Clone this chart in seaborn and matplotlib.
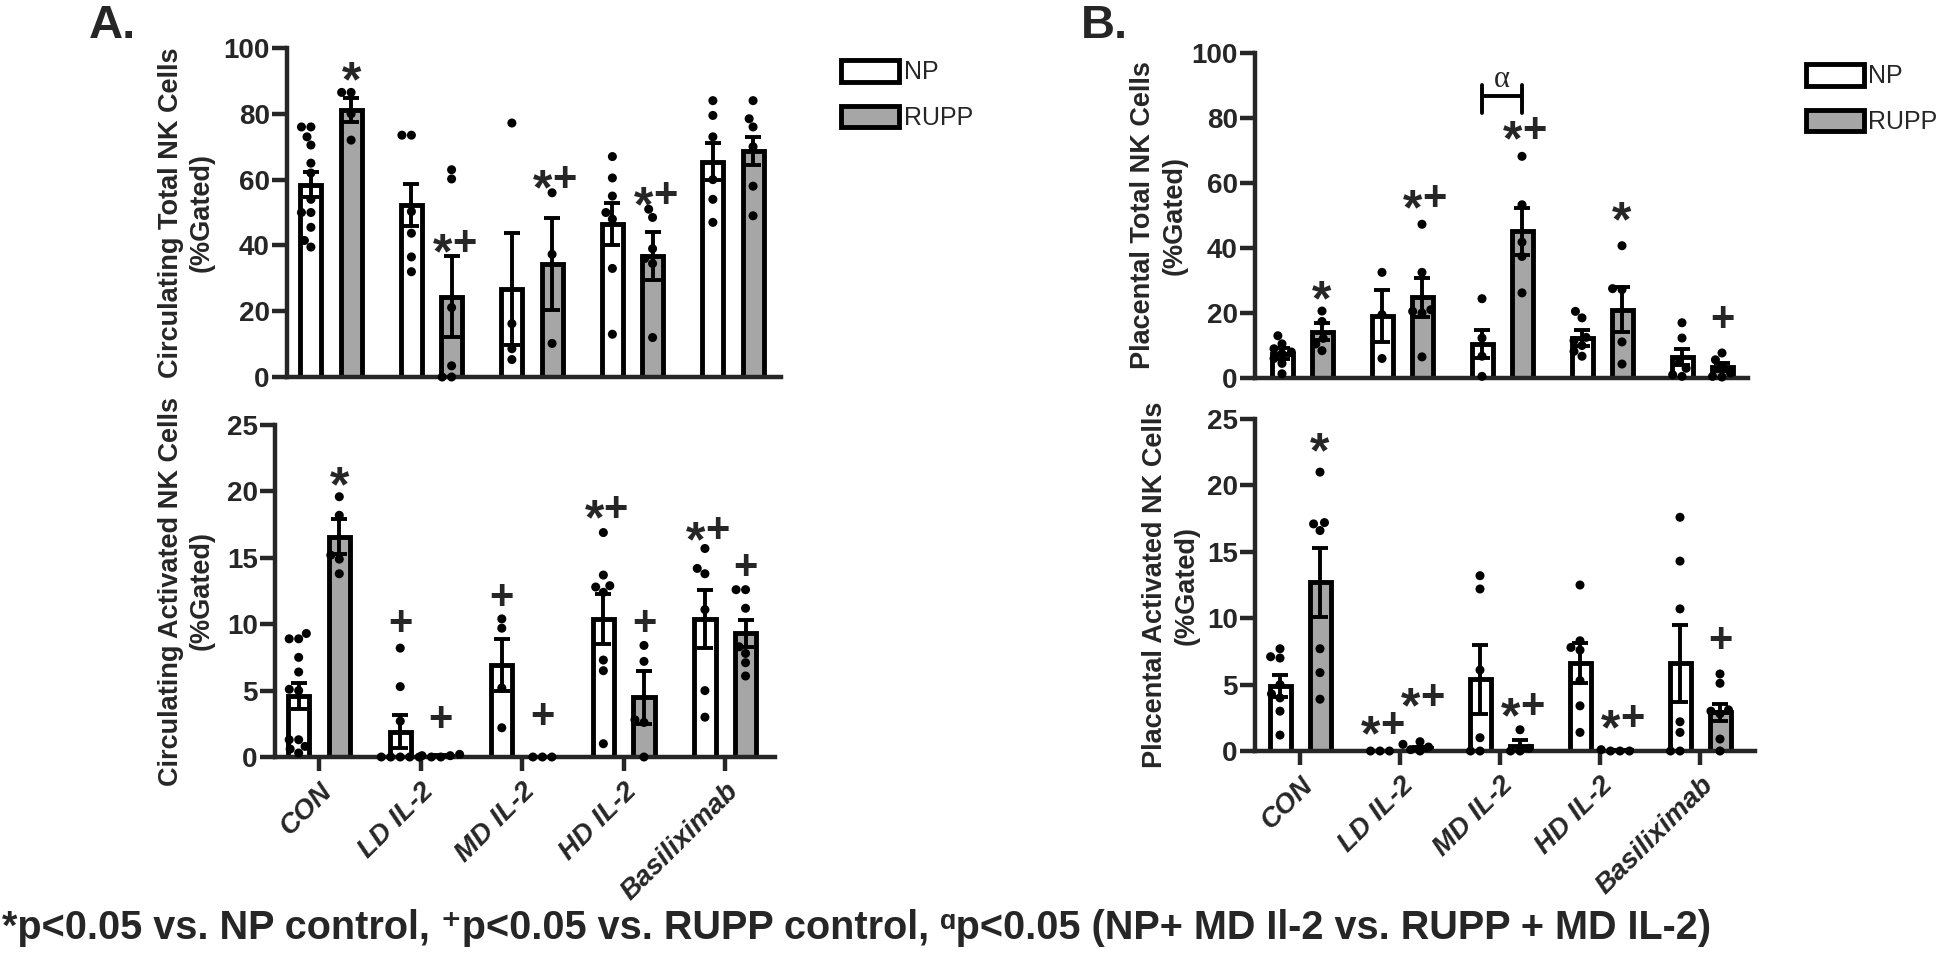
import numpy as np
import pandas as pd
import matplotlib
matplotlib.use("Agg")
import matplotlib.pyplot as plt
from matplotlib.patches import Patch
import seaborn as sns

sns.set_style("ticks")
plt.rcParams["font.family"] = ["Liberation Sans", "DejaVu Sans"]
plt.rcParams["font.weight"] = "bold"

# =========================
# DATA
# =========================
CATS = ["CON", "LD IL-2", "MD IL-2", "HD IL-2", "Basiliximab"]
GROUPS = ["NP", "RUPP"]
GRAY = "#a6a6a6"

# A. circulating total NK cells
circ_total_np_mean = [58.5, 52.3, 26.7, 46.5, 65.5]
circ_total_np_sem = [3.9, 6.4, 17.0, 6.4, 5.6]
circ_total_rupp_mean = [81.2, 24.4, 34.3, 36.8, 68.8]
circ_total_rupp_sem = [3.7, 12.3, 13.9, 7.2, 4.3]
circ_total_np_pts = [
    [76, 76, 73, 70.5, 65, 62, 54, 50, 50, 45.5, 41.5, 39.5],
    [73.5, 73.5, 50.3, 43.7, 36.5, 32],
    [77.2, 16.2, 8.6, 5.3],
    [67, 60.5, 55, 50, 48, 33, 13],
    [84, 79.5, 73, 60, 54, 47],
]
circ_total_rupp_pts = [
    [86.5, 86.5, 80, 72],
    [63, 60.2, 21.1, 3.4, 0, 0],
    [56, 37.3, 10.2],
    [51, 48.5, 39, 36, 34.5, 12],
    [84, 78.5, 76, 70, 58, 49],
]
circ_total_marks = [(0, "RUPP", "*", 93), (1, "RUPP", "*+", 40.5),
                    (2, "RUPP", "*+", 60), (3, "RUPP", "*+", 55)]

# A. circulating activated NK cells
circ_act_np_mean = [4.6, 1.9, 6.9, 10.4, 10.4]
circ_act_np_sem = [1.0, 1.25, 1.95, 1.9, 2.2]
circ_act_rupp_mean = [16.6, 0.1, 0.0, 4.5, 9.3]
circ_act_rupp_sem = [1.3, 0.05, 0.0, 2.0, 1.05]
circ_act_np_pts = [
    [9.3, 8.9, 8.9, 7.5, 6.4, 5.1, 5.0, 1.3, 1.3, 0.8, 0.6, 0.3],
    [8.2, 5.3, 2.7, 0, 0, 0, 0, 0],
    [10.4, 9.7, 5.2, 2.2],
    [16.9, 13.7, 12.9, 12.8, 12.4, 7.3, 6.5, 1.0],
    [15.7, 14.2, 13.8, 11.1, 5.0, 3.0],
]
circ_act_rupp_pts = [
    [19.6, 18.2, 15.2, 14.9, 13.8],
    [0.2, 0.1, 0.1, 0, 0],
    [0, 0, 0],
    [8.4, 7.2, 2.8, 2.6, 0],
    [12.6, 12.6, 11.2, 8.3, 7.8, 7.1, 6.1],
]
circ_act_marks = [(0, "RUPP", "*", 21.1), (1, "NP", "+", 10.0), (1, "RUPP", "+", 2.8),
                  (2, "NP", "+", 12.0), (2, "RUPP", "+", 3.0), (3, "NP", "*+", 18.6),
                  (3, "RUPP", "+", 10.0), (4, "NP", "*+", 17.0), (4, "RUPP", "+", 14.2)]

# B. placental total NK cells
plac_total_np_mean = [7.5, 19.1, 10.6, 12.3, 6.4]
plac_total_np_sem = [1.6, 8.0, 4.3, 2.4, 2.5]
plac_total_rupp_mean = [14.2, 24.8, 45.1, 21.0, 3.4]
plac_total_rupp_sem = [2.6, 5.9, 7.2, 6.9, 1.2]
plac_total_np_pts = [
    [13, 10.5, 9, 8, 7.5, 6, 4.5, 1.3],
    [32.5, 19.5, 6],
    [24.4, 12.3, 6.7, 0.5],
    [20.5, 18.5, 12.5, 11.5, 10, 8.2, 6.7],
    [17, 12.3, 5, 3, 1, 0.5],
]
plac_total_rupp_pts = [
    [20.6, 17.4, 12.2, 10.5, 8.4],
    [47.3, 32.5, 21, 20.5, 20, 6.5],
    [68.2, 53.3, 41.8, 37.4, 26.2],
    [40.7, 27.5, 27.2, 11.1, 4.3],
    [7.7, 5.6, 3.6, 1.5, 0.5, 0.3],
]
plac_total_marks = [(0, "RUPP", "*", 26.8), (1, "RUPP", "*+", 55),
                    (2, "RUPP", "*+", 76), (3, "RUPP", "*", 51.3), (4, "RUPP", "+", 17.9)]
alpha_bracket = (2, 81.5, 86.7, 90.0, 91.8)  # category, tick low, bar, tick high, label

# B. placental activated NK cells
plac_act_np_mean = [4.9, 0.0, 5.4, 6.6, 6.6]
plac_act_np_sem = [0.8, 0.0, 2.6, 1.5, 2.9]
plac_act_rupp_mean = [12.7, 0.2, 0.4, 0.05, 2.9]
plac_act_rupp_sem = [2.6, 0.1, 0.45, 0.03, 0.65]
plac_act_np_pts = [
    [7.7, 7.1, 7.0, 5.0, 4.3, 4.0, 3.0, 1.2],
    [0, 0, 0],
    [13.2, 12.2, 6.1, 1.0, 0, 0],
    [12.5, 8.3, 7.8, 7.6, 5.3, 3.4, 1.4],
    [17.6, 14.3, 10.7, 2.2, 1.4, 0, 0],
]
plac_act_rupp_pts = [
    [21, 17.2, 17.1, 16.6, 7.7, 5.9, 3.9],
    [0.7, 0.5, 0.3, 0.1, 0],
    [1.6, 0.2, 0, 0],
    [0.1, 0, 0, 0],
    [5.8, 5.1, 3.1, 3.0, 2.8, 0.9, 0],
]
plac_act_marks = [(0, "RUPP", "*", 23.2), (1, "NP", "*+", 1.9), (1, "RUPP", "*+", 4.0),
                  (2, "RUPP", "*+", 3.3), (3, "RUPP", "*+", 2.4), (4, "RUPP", "+", 8.3)]

FOOTNOTE = ("*p<0.05 vs. NP control, \u207ap<0.05 vs. RUPP control, "
            "\u1d45p<0.05 (NP+ MD Il-2 vs. RUPP + MD IL-2)")

# =========================
# HELPERS
# =========================
W, H = 1946, 980


def px_axes(left, right, y_bottom, y_top):
    return [left / W, 1 - y_bottom / H, (right - left) / W, (y_bottom - y_top) / H]


def put_mark(ax, x, y, s):
    kw = dict(textcoords="offset points", ha="center", va="center",
              fontweight="bold", zorder=5, annotation_clip=False)
    star = dict(fontsize=36, **kw)
    plus = dict(fontsize=30, **kw)
    if s == "*":
        ax.annotate("*", (x, y), xytext=(0, -8.5), **star)
    elif s == "+":
        ax.annotate("+", (x, y), xytext=(0, 0), **plus)
    else:
        ax.annotate("*", (x, y), xytext=(-6.5, -8.5), **star)
        ax.annotate("+", (x, y), xytext=(9, 0), **plus)


def draw_panel(ax, np_mean, np_sem, rupp_mean, rupp_sem, np_pts, rupp_pts,
               marks, ymax, step, xlim, show_x):
    bars = pd.DataFrame({
        "cat": CATS * 2,
        "group": ["NP"] * 5 + ["RUPP"] * 5,
        "mean": np_mean + rupp_mean,
        "sem": np_sem + rupp_sem,
    })
    rows = []
    for g, pts in zip(GROUPS, [np_pts, rupp_pts]):
        for c, vals in zip(CATS, pts):
            rows += [(c, g, v) for v in vals]
    pts_df = pd.DataFrame(rows, columns=["cat", "group", "value"])

    sns.barplot(data=bars, x="cat", y="mean", hue="group", order=CATS, hue_order=GROUPS,
                palette={"NP": "white", "RUPP": GRAY}, edgecolor="black", linewidth=3.5,
                width=0.8, gap=0.475, errorbar=None, legend=False, ax=ax, zorder=2)

    sem_lookup = {(r.cat, r.group): r.sem for r in bars.itertuples()}
    for p in ax.patches:
        xc = p.get_x() + p.get_width() / 2
        ci = int(round(xc))
        g = "NP" if xc < ci else "RUPP"
        s = sem_lookup[(CATS[ci], g)]
        if s > 0:
            ax.errorbar(xc, p.get_height(), yerr=s, fmt="none", ecolor="black",
                        elinewidth=2.8, capsize=5.5, capthick=2.8, zorder=3)

    sns.swarmplot(data=pts_df, x="cat", y="value", hue="group", order=CATS, hue_order=GROUPS,
                  dodge=True, palette={"NP": "black", "RUPP": "black"}, size=6.5,
                  legend=False, ax=ax, zorder=4, warn_thresh=1)
    for c in ax.collections:
        c.set_clip_on(False)

    for ci, g, s, y in marks:
        put_mark(ax, ci + (-0.2 if g == "NP" else 0.2), y, s)

    ticks = np.arange(0, ymax + 1, step)
    ax.set_ylim(0, ymax)
    ax.set_yticks(ticks)
    ax.set_yticklabels([str(t) for t in ticks], fontsize=20, fontweight="bold")
    ax.set_xlim(*xlim)
    sns.despine(ax=ax)
    for sp in ["left", "bottom"]:
        ax.spines[sp].set_linewidth(3.2)
    ax.tick_params(axis="y", length=11, width=3.2, pad=1.5)
    ax.set_xlabel("")
    ax.set_ylabel("")
    ax.set_xticks(range(len(CATS)))
    if show_x:
        ax.tick_params(axis="x", length=10, width=3.2, pad=5)
        ax.set_xticklabels(CATS, rotation=45, ha="right", va="top", rotation_mode="anchor",
                           fontsize=20, fontweight="bold", fontstyle="italic")
    else:
        ax.tick_params(axis="x", length=0)
        ax.set_xticklabels([])


# =========================
# FIGURE
# =========================
fig = plt.figure(figsize=(W / 100, H / 100), dpi=100)

ax_a1 = fig.add_axes(px_axes(287, 781, 377, 48))
ax_a2 = fig.add_axes(px_axes(275, 775, 757, 425))
ax_b1 = fig.add_axes(px_axes(1255, 1748, 378, 53))
ax_b2 = fig.add_axes(px_axes(1255, 1755, 751, 419))

draw_panel(ax_a1, circ_total_np_mean, circ_total_np_sem, circ_total_rupp_mean,
           circ_total_rupp_sem, circ_total_np_pts, circ_total_rupp_pts,
           circ_total_marks, 100, 20, (-0.438, 4.478), False)
draw_panel(ax_a2, circ_act_np_mean, circ_act_np_sem, circ_act_rupp_mean,
           circ_act_rupp_sem, circ_act_np_pts, circ_act_rupp_pts,
           circ_act_marks, 25, 5, (-0.433, 4.49), True)
draw_panel(ax_b1, plac_total_np_mean, plac_total_np_sem, plac_total_rupp_mean,
           plac_total_rupp_sem, plac_total_np_pts, plac_total_rupp_pts,
           plac_total_marks, 100, 20, (-0.47, 4.46), False)
draw_panel(ax_b2, plac_act_np_mean, plac_act_np_sem, plac_act_rupp_mean,
           plac_act_rupp_sem, plac_act_np_pts, plac_act_rupp_pts,
           plac_act_marks, 25, 5, (-0.45, 4.55), True)

# alpha bracket between NP and RUPP of MD IL-2
ci, lo, mid, hi, lab = alpha_bracket
ax_b1.plot([ci - 0.2, ci + 0.2], [mid, mid], color="black", lw=2.8, zorder=5)
ax_b1.plot([ci - 0.2, ci - 0.2], [lo, hi], color="black", lw=2.8, zorder=5)
ax_b1.plot([ci + 0.2, ci + 0.2], [lo, hi], color="black", lw=2.8, zorder=5)
ax_b1.text(ci, lab, "\u03b1", ha="center", va="center", fontsize=22, fontweight="normal",
           family=["Liberation Serif", "DejaVu Serif"])

# y-axis titles
ylabels = [
    ("Circulating Total NK Cells\n(%Gated)", 186, 212.5),
    ("Circulating Activated NK Cells\n(%Gated)", 186, 591),
    ("Placental Total NK Cells\n(%Gated)", 1159, 215.5),
    ("Placental Activated NK Cells\n(%Gated)", 1171, 585),
]
for txt, x, y in ylabels:
    fig.text(x / W, 1 - y / H, txt, rotation=90, ha="center", va="center",
             multialignment="center", fontsize=19.5, fontweight="bold", linespacing=1.25)

# legends
handles = [Patch(facecolor="white", edgecolor="black", linewidth=3.5),
           Patch(facecolor=GRAY, edgecolor="black", linewidth=3.5)]
for x0, y0 in [(841, 60), (1806, 64)]:
    fig.legend(handles, GROUPS, loc="upper left", bbox_to_anchor=(x0 / W, 1 - y0 / H),
               frameon=False, prop={"size": 18, "weight": "normal"}, borderpad=0,
               handlelength=2.3, handleheight=0.95, handletextpad=0.2,
               labelspacing=0.85, borderaxespad=0)

# panel letters
fig.text(89 / W, 1 - 4 / H, "A.", fontsize=34, fontweight="bold", ha="left", va="top")
fig.text(1081 / W, 1 - 4 / H, "B.", fontsize=34, fontweight="bold", ha="left", va="top")

# footnote
fig.text(2 / W, 1 - 928 / H, FOOTNOTE, fontsize=28.5, fontweight="bold", ha="left", va="center")

fig.savefig("out.png", dpi=100)
